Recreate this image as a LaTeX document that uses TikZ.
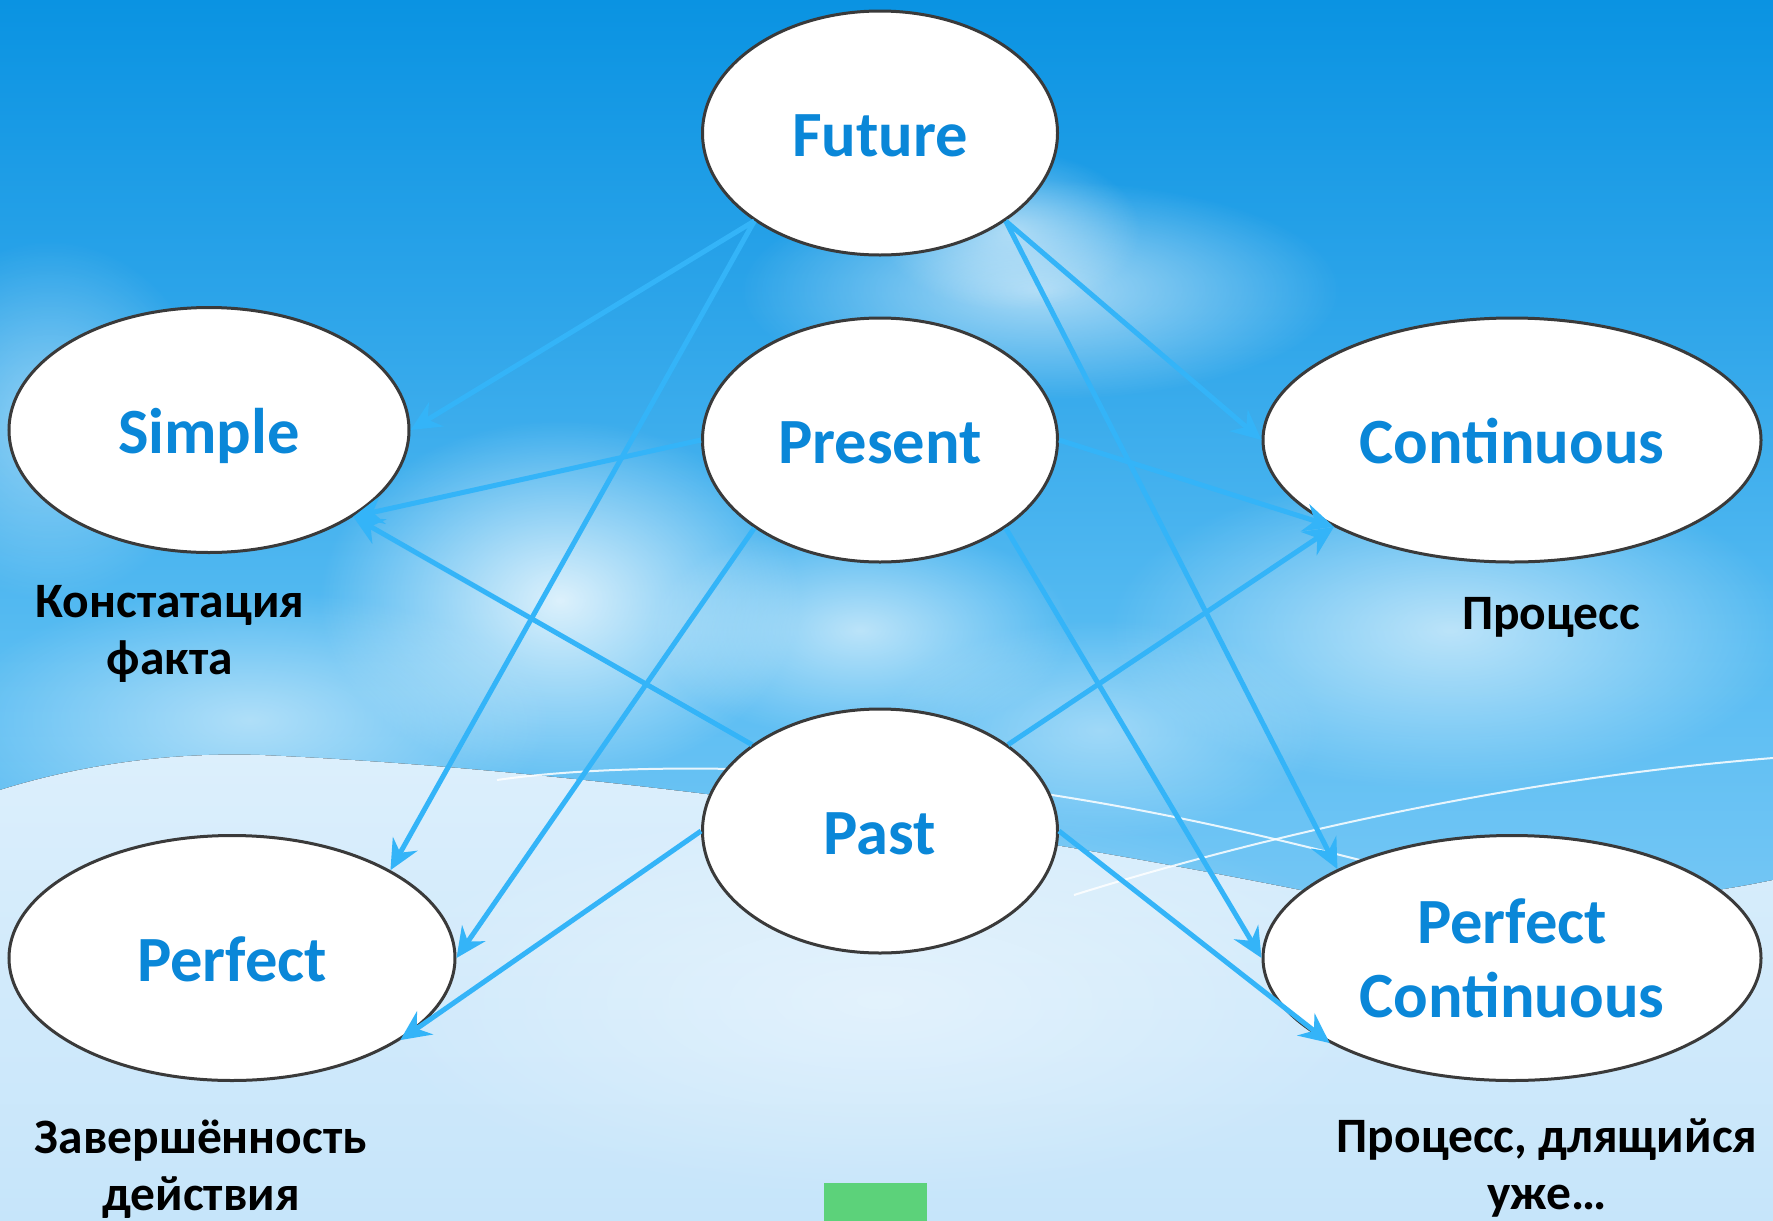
\documentclass[tikz,border=0pt]{standalone}
\usepackage{fontspec}
\setmainfont{Carlito}
\usetikzlibrary{shapes.geometric,arrows.meta,fadings}
\definecolor{skyA}{RGB}{10,147,226}
\definecolor{skyB}{RGB}{44,164,233}
\definecolor{skyC}{RGB}{88,188,242}
\definecolor{skyD}{RGB}{150,211,248}
\definecolor{skyL}{RGB}{220,239,252}
\definecolor{skyM}{RGB}{198,229,250}
\definecolor{tenseblue}{RGB}{10,135,216}
\definecolor{ellborder}{RGB}{58,58,58}
\definecolor{arrowblue}{RGB}{52,180,248}
\definecolor{boxgreen}{RGB}{92,210,122}
\tikzfading[name=cloudfade, inner color=transparent!0, outer color=transparent!100]
\newcommand{\tensetext}[1]{\rule[-16pt]{0pt}{78pt}#1}
\begin{document}
\begin{tikzpicture}[x=1pt,y=-1pt,
  tense/.style={ellipse, draw=ellborder, line width=3pt, fill=white, inner sep=0pt,
    text=tenseblue, font=\bfseries\fontsize{64.5}{74}\selectfont, align=center},
  note/.style={font=\bfseries\fontsize{49.5}{57}\selectfont, align=center, text=black, inner sep=0pt},
  link/.style={draw=arrowblue, line width=5pt, -{Stealth[length=30pt,width=28pt,inset=10pt]}},
  cloud/.style={fill=white, path fading=cloudfade}]
\useasboundingbox (0,0) rectangle (1773,1221);
% sky
\fill[top color=skyA, bottom color=skyB] (0,0) rectangle (1773,300);
\fill[top color=skyB, bottom color=skyC] (0,299) rectangle (1773,650);
\fill[top color=skyC, bottom color=skyD] (0,649) rectangle (1773,1221);
% clouds
\fill[cloud, fill opacity=0.6] (1040,290) ellipse (300 and 110);
\fill[cloud, fill opacity=0.5] (1010,230) ellipse (130 and 80);
\fill[cloud, fill opacity=0.8] (560,600) ellipse (240 and 180);
\fill[cloud, fill opacity=0.45] (50,420) ellipse (160 and 180);
\fill[cloud, fill opacity=0.6] (860,630) ellipse (210 and 110);
\fill[cloud, fill opacity=0.6] (1450,630) ellipse (340 and 160);
\fill[cloud, fill opacity=0.5] (250,720) ellipse (300 and 130);
\fill[cloud, fill opacity=0.4] (1100,730) ellipse (220 and 110);
% light lower region
\fill[top color=skyL, bottom color=skyM]
  (0,790) .. controls (80,765) and (170,752) .. (260,755)
  .. controls (600,770) and (1000,830) .. (1300,890)
  .. controls (1500,920) and (1680,900) .. (1773,880)
  -- (1773,1221) -- (0,1221) -- cycle;
\fill[cloud, fill opacity=0.4] (880,1000) ellipse (520 and 200);
% thin white curves
\draw[white, line width=2pt, opacity=0.85]
  (497,780) .. controls (600,765) and (800,760) .. (1052,795)
  .. controls (1180,815) and (1280,840) .. (1360,860);
\draw[white, line width=2pt, opacity=0.85]
  (1074,895) .. controls (1250,840) and (1500,780) .. (1773,758);
% tense ellipses
\node[tense, minimum width=355pt, minimum height=244pt] (fut) at (880,133) {\tensetext{Future}};
\node[tense, minimum width=400pt, minimum height=245pt] (sim) at (209,430) {\tensetext{Simple}};
\node[tense, minimum width=355pt, minimum height=244pt] (pre) at (880,440) {\tensetext{Present}};
\node[tense, minimum width=498pt, minimum height=244pt] (con) at (1512,440) {\tensetext{Continuous}};
\node[tense, minimum width=355pt, minimum height=244pt] (pas) at (880,831) {\tensetext{Past}};
\node[tense, minimum width=446pt, minimum height=245pt] (per) at (232,958) {\tensetext{Perfect}};
\node[tense, minimum width=498pt, minimum height=245pt] (pco) at (1512,958) {\rule{0pt}{56pt}Perfect\\Continuous\rule[-12pt]{0pt}{0pt}};
% labels
\node[note] (lsim) at (170,634) {Констатация\\факта};
\node[note] (lcon) at (1551,617) {Процесс};
\node[note] (lper) at (201,1169) {Завершённость\\действия};
\node[note] (lpco) at (1547,1168) {Процесс, длящийся\\уже…};
% green box
\fill[boxgreen] (824,1183) rectangle (927,1221);
% connectors
\draw[link] (fut.215) -- (sim.east);
\draw[link] (fut.215) -- (per.29);
\draw[link] (fut.325) -- (con.west);
\draw[link] (fut.325) -- (pco.153);
\draw[link] (pre.west) -- (sim.-31);
\draw[link] (pre.215) -- (per.east);
\draw[link] (pre.east) -- (con.206);
\draw[link] (pre.325) -- (pco.west);
\draw[link] (pas.146) -- (sim.-31);
\draw[link] (pas.west) -- (per.-26);
\draw[link] (pas.34) -- (con.206);
\draw[link] (pas.east) -- (pco.205);
\end{tikzpicture}
\end{document}
